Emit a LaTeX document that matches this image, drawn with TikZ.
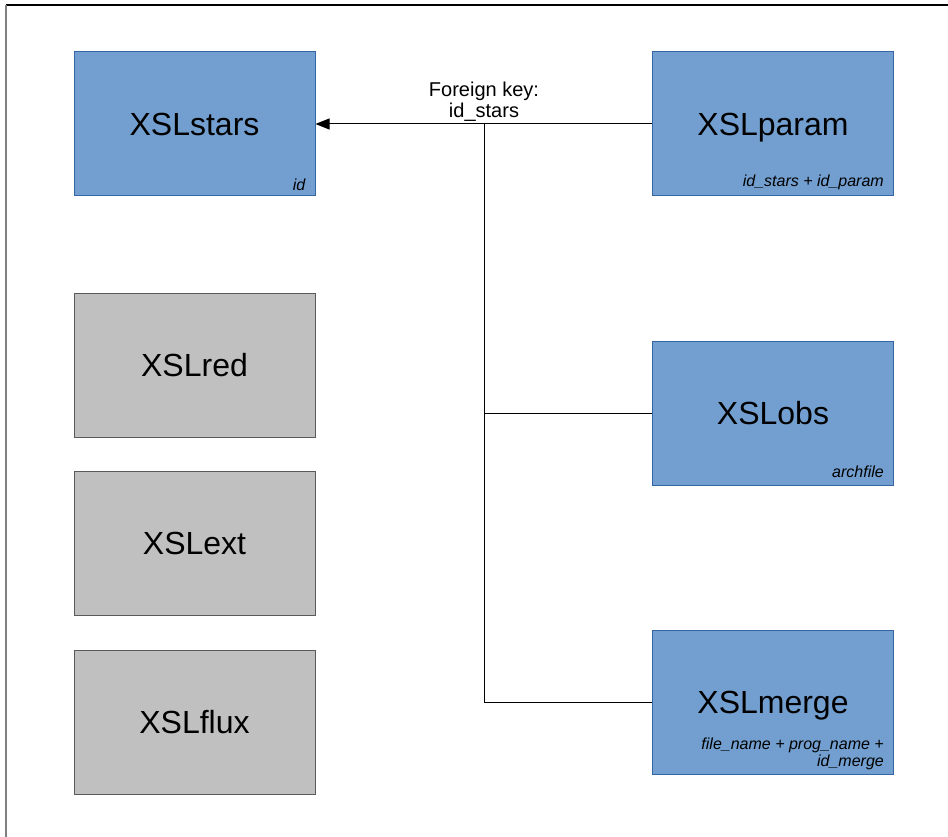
\documentclass[tikz,border=0pt]{standalone}
\usepackage{fontspec}
\setmainfont{Liberation Sans}
\usepackage{xcolor}
\usetikzlibrary{arrows.meta, positioning, calc}

\definecolor{tblue}{HTML}{729FCF}
\definecolor{tblueline}{HTML}{3465A4}
\definecolor{tgray}{HTML}{C0C0C0}
\definecolor{tgrayline}{HTML}{5A5A5A}

\begin{document}
\begin{tikzpicture}[
    x=1pt, y=-1pt,
    table/.style={draw=tblueline, fill=tblue, line width=1pt, rectangle, minimum width=241pt, minimum height=144pt, inner sep=0pt, text depth=0pt, font=\fontsize{32}{38}\selectfont},
    graytable/.style={draw=tgrayline, fill=tgray, line width=1pt, rectangle, minimum width=241pt, minimum height=144pt, inner sep=0pt, text depth=0pt, font=\fontsize{32}{38}\selectfont},
    keytext/.style={anchor=south east, align=right, inner sep=0pt, font=\fontsize{16}{17}\selectfont\itshape},
    arrow/.style={line width=1pt, -{Triangle[length=14pt, width=11pt]}}
]
\useasboundingbox (0,0) rectangle (948,837);
% page border
\draw[line width=1.2pt] (6,5) -- (948,5);
\draw[line width=2pt, gray] (6,5) -- (6,837);

\node (stars) [table] at (194.5,124) {XSLstars};
\node (param) [table] at (773,124) {XSLparam};
\node (red) [graytable] at (194.5,365) {XSLred};
\node (ext) [graytable] at (194.5,543) {XSLext};
\node (flux) [graytable] at (194.5,722) {XSLflux};
\node (obs) [table] at (773,413) {XSLobs};
\node (merge) [table] at (773,702) {XSLmerge};

\node (starskey) [keytext] at ($(stars.south east)+(-10,-6)$) {id};
\node (paramkey) [keytext] at ($(param.south east)+(-10,-6)$) {id\_stars + id\_param};
\node (obskey) [keytext] at ($(obs.south east)+(-10,-8)$) {archfile};
\node (mergekey) [keytext] at ($(merge.south east)+(-10,-4)$) {file\_name + prog\_name +\\id\_merge};

\coordinate (fk) at (484,124);
\node (fklabel) [above, align=center, inner sep=2pt, font=\fontsize{20}{21}\selectfont] at (fk) {Foreign key:\\id\_stars};

\draw[arrow] (param.west) -- (stars.east);
\draw[line width=1pt] (fk) -- (fk |- merge.west) -- (merge.west);
\draw[line width=1pt] (fk |- obs.west) -- (obs.west);
\end{tikzpicture}
\end{document}
